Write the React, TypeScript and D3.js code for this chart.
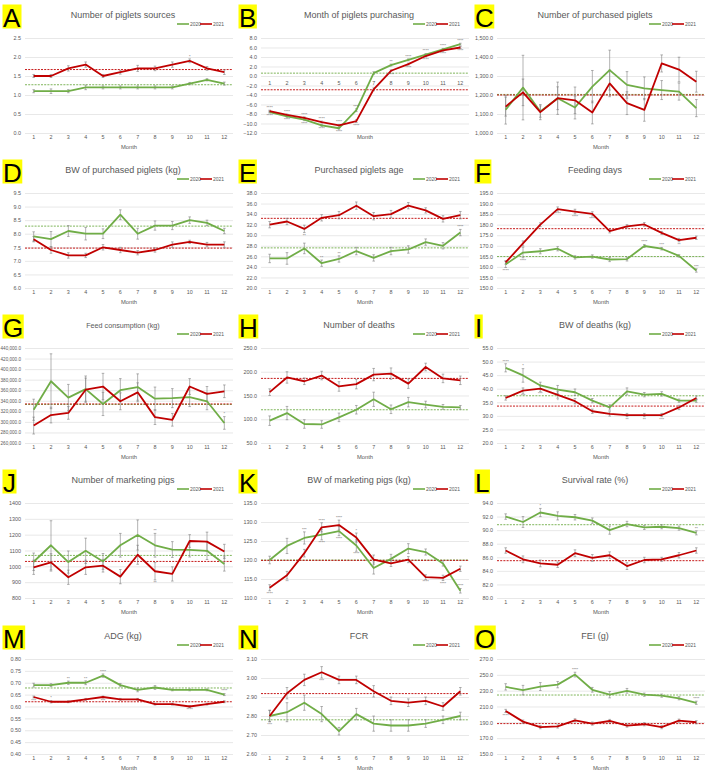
import { useEffect, useRef } from 'react';
import * as d3 from 'd3';

const FONT = '"Liberation Sans", Arial, sans-serif';
const GREEN = '#70ad47';
const RED = '#c00000';
const TEXT = '#595959';

const months = [1, 2, 3, 4, 5, 6, 7, 8, 9, 10, 11, 12];
const seriesNames = ['2020', '2021'];

// A - number of piglets sources
const sourcesTicks = [0, 0.5, 1, 1.5, 2, 2.5];
const sources2020 = [1.1, 1.1, 1.1, 1.2, 1.2, 1.2, 1.2, 1.2, 1.2, 1.3, 1.4, 1.3];
const sources2021 = [1.5, 1.5, 1.7, 1.8, 1.5, 1.6, 1.7, 1.7, 1.8, 1.9, 1.7, 1.6];
const sourcesErr2020 = [0.04, 0.06, 0.04, 0.06, 0.04, 0.04, 0.04, 0.04, 0.04, 0.03, 0.03, 0.04];
const sourcesErr2021 = [0.04, 0.04, 0.07, 0.07, 0.04, 0.05, 0.08, 0.06, 0.07, 0.05, 0.05, 0.06];
const sourcesMean = [1.27, 1.67];

// B - month of piglets purchasing
const purchMonthTicks = [-12, -10, -8, -6, -4, -2, 0, 2, 4, 6, 8];
const purchMonth2020 = [-7.6, -8.5, -9.2, -10.4, -11.0, -7.2, 0.6, 2.3, 3.4, 4.5, 5.6, 6.7];
const purchMonth2021 = [-7.4, -8.2, -8.8, -9.7, -10.4, -9.5, -2.8, 1.1, 2.5, 4.2, 5.4, 6.0];
const purchMonthErr2020 = [0.2, 0.2, 0.2, 0.2, 0.2, 0.3, 0.3, 0.2, 0.2, 0.2, 0.2, 0.2];
const purchMonthErr2021 = [0.2, 0.2, 0.2, 0.2, 0.2, 0.3, 0.3, 0.2, 0.2, 0.2, 0.2, 0.2];
const purchMonthMean = [0.6, -2.9];

// C - number of purchased piglets
const purchNumTicks = [1000, 1100, 1200, 1300, 1400, 1500];
const purchNum2020 = [1122, 1239, 1113, 1183, 1134, 1244, 1331, 1253, 1235, 1226, 1218, 1131];
const purchNum2021 = [1139, 1214, 1110, 1183, 1172, 1108, 1261, 1157, 1122, 1366, 1334, 1270];
const purchNumErr2020 = [75, 170, 30, 85, 60, 85, 105, 70, 60, 50, 45, 45];
const purchNumErr2021 = [50, 70, 40, 60, 70, 60, 70, 60, 60, 45, 65, 55];
const purchNumMean = [1203, 1200];

// D - BW of purchased piglets
const bwPigletTicks = [6, 6.5, 7, 7.5, 8, 8.5, 9, 9.5];
const bwPiglet2020 = [7.9, 7.8, 8.1, 8.0, 8.0, 8.7, 8.0, 8.3, 8.3, 8.5, 8.4, 8.1];
const bwPiglet2021 = [7.8, 7.4, 7.2, 7.2, 7.5, 7.4, 7.3, 7.4, 7.6, 7.7, 7.6, 7.6];
const bwPigletErr2020 = [0.17, 0.28, 0.2, 0.23, 0.18, 0.18, 0.2, 0.17, 0.15, 0.12, 0.1, 0.1];
const bwPigletErr2021 = [0.1, 0.12, 0.1, 0.08, 0.1, 0.1, 0.08, 0.08, 0.1, 0.06, 0.08, 0.1];
const bwPigletMean = [8.28, 7.47];

// E - purchased piglets age
const ageTicks = [20, 22, 24, 26, 28, 30, 32, 34, 36, 38];
const age2020 = [25.6, 25.6, 27.5, 24.7, 25.5, 27.0, 25.7, 27.0, 27.3, 28.7, 28.0, 30.5];
const age2021 = [32.0, 32.6, 31.2, 33.3, 33.8, 35.6, 33.6, 34.0, 35.6, 34.7, 33.1, 33.8];
const ageErr2020 = [0.8, 1.1, 1.0, 0.6, 0.6, 0.7, 0.6, 0.7, 0.7, 0.6, 0.6, 0.6];
const ageErr2021 = [0.6, 0.6, 0.7, 0.6, 0.7, 0.7, 0.7, 0.7, 0.6, 0.5, 0.6, 0.7];
const ageMean = [27.6, 33.2];

// F - feeding days
const feedDaysTicks = [150, 155, 160, 165, 170, 175, 180, 185, 190, 195];
const feedDays2020 = [161.2, 166.8, 167.4, 168.6, 164.5, 164.9, 163.5, 163.7, 169.9, 168.6, 165.2, 158.3];
const feedDays2021 = [162.1, 171.1, 180.0, 187.4, 186.2, 185.1, 176.9, 179.2, 180.1, 176.1, 172.7, 173.8];
const feedDaysErr2020 = [1.5, 2.5, 1.2, 1.0, 0.8, 0.8, 1.0, 0.9, 0.7, 0.6, 0.6, 0.8];
const feedDaysErr2021 = [0.8, 1.2, 0.9, 1.0, 1.1, 1.0, 0.8, 0.8, 0.9, 0.7, 0.8, 0.8];
const feedDaysMean = [164.9, 178.1];

// G - feed consumption
const feedTicks = [260000, 280000, 300000, 320000, 340000, 360000, 380000, 400000, 420000, 440000];
const feed2020 = [323000, 377000, 346000, 362000, 334000, 360000, 366000, 344000, 345000, 347000, 339000, 298000];
const feed2021 = [293000, 313000, 317000, 361000, 367000, 339000, 356000, 309000, 304000, 367000, 353000, 358000];
const feedErr2020 = [20000, 52000, 25000, 25000, 22000, 22000, 25000, 22000, 18000, 18000, 16000, 12000];
const feedErr2021 = [16000, 15000, 12000, 22000, 25000, 16000, 18000, 14000, 12000, 15000, 14000, 12000];
const feedMean = [333000, 334000];

// H - number of deaths
const deathsTicks = [50, 100, 150, 200, 250];
const deaths2020 = [97, 113, 90, 89, 104, 120, 142, 121, 136, 131, 126, 125];
const deaths2021 = [157, 188, 180, 192, 169, 174, 194, 196, 175, 210, 186, 182];
const deathsErr2020 = [10, 14, 9, 8, 9, 9, 15, 9, 10, 7, 5, 4];
const deathsErr2021 = [7, 12, 7, 9, 10, 10, 13, 12, 10, 8, 9, 9];
const deathsMean = [120, 186];

// I - BW of deaths
const bwDeathTicks = [20, 25, 30, 35, 40, 45, 50, 55];
const bwDeath2020 = [47.7, 44.9, 41.2, 39.7, 38.7, 35.6, 33.1, 39.0, 37.8, 38.1, 35.6, 35.6];
const bwDeath2021 = [36.6, 39.3, 40.0, 37.7, 35.4, 31.7, 30.7, 30.3, 30.3, 30.3, 33.1, 36.6];
const bwDeathErr2020 = [1.5, 2.5, 1.2, 1.5, 1.2, 0.8, 1.0, 1.3, 0.8, 0.8, 0.6, 0.6];
const bwDeathErr2021 = [0.8, 1.0, 1.0, 1.2, 1.0, 0.8, 0.8, 0.6, 0.6, 0.6, 0.8, 0.7];
const bwDeathMean = [37.4, 33.6];

// J - number of marketing pigs
const marketTicks = [800, 900, 1000, 1100, 1200, 1300, 1400];
const market2020 = [1029, 1133, 1027, 1098, 1031, 1133, 1198, 1133, 1106, 1104, 1098, 1015];
const market2021 = [994, 1025, 931, 994, 1004, 935, 1073, 969, 952, 1160, 1156, 1094];
const marketErr2020 = [55, 155, 70, 80, 50, 75, 95, 75, 50, 45, 55, 45];
const marketErr2021 = [45, 55, 45, 45, 40, 45, 60, 55, 45, 40, 60, 45];
const marketMean = [1069, 1031];

// K - BW of marketing pigs
const bwMarketTicks = [110, 115, 120, 125, 130, 135];
const bwMarket2020 = [120.0, 123.7, 125.8, 126.7, 127.6, 123.8, 117.9, 120.3, 123.0, 122.1, 119.1, 111.9];
const bwMarket2021 = [112.7, 116.0, 121.8, 128.6, 129.2, 125.9, 120.1, 119.1, 120.1, 115.5, 115.3, 117.7];
const bwMarketErr2020 = [1.0, 2.0, 1.6, 1.4, 1.2, 1.5, 1.6, 1.2, 1.3, 0.8, 0.7, 0.6];
const bwMarketErr2021 = [0.8, 1.0, 1.0, 1.2, 1.3, 1.2, 1.2, 0.8, 0.8, 0.6, 0.7, 0.7];
const bwMarketMean = [120.0, 119.9];

// L - survival rate
const survivalTicks = [80, 82, 84, 86, 88, 90, 92, 94];
const survival2020 = [92.0, 91.2, 92.6, 92.1, 91.9, 91.4, 90.0, 90.9, 90.4, 90.5, 90.3, 89.6];
const survival2021 = [87.0, 85.7, 85.1, 84.9, 86.6, 85.9, 86.3, 84.7, 85.6, 85.7, 86.3, 87.0];
const survivalErr2020 = [0.4, 0.8, 0.6, 0.6, 0.4, 0.4, 0.6, 0.4, 0.3, 0.3, 0.3, 0.3];
const survivalErr2021 = [0.4, 0.5, 0.5, 0.4, 0.5, 0.5, 0.5, 0.5, 0.4, 0.3, 0.4, 0.4];
const survivalMean = [90.8, 85.5];

// M - ADG
const adgTicks = [0.4, 0.45, 0.5, 0.55, 0.6, 0.65, 0.7, 0.75, 0.8];
const adg2020 = [0.69, 0.69, 0.70, 0.70, 0.73, 0.69, 0.67, 0.68, 0.67, 0.67, 0.67, 0.65];
const adg2021 = [0.64, 0.62, 0.62, 0.63, 0.64, 0.63, 0.63, 0.61, 0.61, 0.60, 0.61, 0.62];
const adgErr2020 = [0.008, 0.006, 0.007, 0.008, 0.007, 0.007, 0.008, 0.008, 0.004, 0.004, 0.004, 0.004];
const adgErr2021 = [0.004, 0.005, 0.004, 0.004, 0.004, 0.004, 0.004, 0.004, 0.004, 0.004, 0.004, 0.004];
const adgMean = [0.678, 0.62];

// N - FCR
const fcrTicks = [2.6, 2.7, 2.8, 2.9, 3.0, 3.1];
const fcr2020 = [2.80, 2.82, 2.87, 2.81, 2.72, 2.81, 2.76, 2.75, 2.75, 2.76, 2.78, 2.80];
const fcr2021 = [2.80, 2.92, 2.99, 3.03, 2.99, 2.99, 2.93, 2.88, 2.87, 2.88, 2.85, 2.93];
const fcrErr2020 = [0.03, 0.05, 0.04, 0.04, 0.02, 0.03, 0.04, 0.03, 0.03, 0.02, 0.02, 0.02];
const fcrErr2021 = [0.03, 0.03, 0.03, 0.03, 0.02, 0.02, 0.03, 0.02, 0.02, 0.02, 0.02, 0.02];
const fcrMean = [2.78, 2.918];

// O - FEI
const feiTicks = [150, 170, 190, 210, 230, 250, 270];
const fei2020 = [234.8, 230.7, 235.2, 237.6, 250.3, 231.1, 224.9, 229.8, 224.9, 223.7, 220.4, 214.7];
const fei2021 = [204.4, 190.9, 183.9, 184.8, 192.5, 188.4, 191.7, 185.9, 187.6, 183.9, 192.1, 190.1];
const feiErr2020 = [4, 6, 5, 4, 3, 3, 4, 3, 2, 2, 2, 2];
const feiErr2021 = [2, 2, 2, 2, 2, 2, 2, 2, 2, 2, 2, 2];
const feiMean = [224.5, 188.4];

// significance marks: [series (0 = 2020, 1 = 2021), month, text, side (1 above, -1 below)]
type Note = [number, number, string, number];
const sourcesNotes: Note[] = [[1, 10, '*', 1]];
const purchMonthNotes: Note[] = [
  [1, 1, '****', 1], [0, 1, '****', -1], [1, 2, '****', 1], [0, 2, '****', -1],
  [1, 3, '****', 1], [0, 3, '****', -1], [1, 4, '****', 1], [0, 4, '****', -1],
  [1, 5, '****', 1], [0, 5, '****', -1], [0, 6, '****', 1], [1, 6, '****', -1],
  [0, 8, '**', 1], [1, 8, '****', -1], [0, 9, '****', 1], [1, 9, '****', -1],
  [0, 10, '****', 1], [1, 10, '****', -1], [0, 11, '****', 1], [1, 11, '****', -1],
  [0, 12, '****', 1], [1, 12, '****', -1],
];
const ageNotes: Note[] = [[1, 3, '**', -1], [0, 4, '**', 1], [0, 5, '**', 1], [0, 12, '****', 1]];
const feedDaysNotes: Note[] = [
  [0, 1, '****', -1], [0, 2, '****', -1], [1, 4, '****', -1], [1, 5, '****', -1],
  [1, 6, '****', -1], [0, 9, '****', 1], [0, 10, '***', 1], [1, 11, '**', -1], [0, 12, '***', 1],
];
const feedNotes: Note[] = [[0, 12, '*', 1]];
const bwDeathNotes: Note[] = [
  [0, 1, '****', 1], [0, 2, '*', 1], [1, 2, '***', -1], [1, 3, '***', -1], [1, 4, '*', -1],
  [1, 7, '*', 1], [1, 8, '**', -1], [1, 9, '**', -1], [1, 10, '***', -1],
];
const marketNotes: Note[] = [[0, 8, '**', 1], [1, 8, '**', -1]];
const bwMarketNotes: Note[] = [
  [1, 1, '****', -1], [1, 2, '**', -1], [0, 3, '***', 1], [1, 4, '****', 1], [0, 4, '****', -1],
  [1, 5, '****', 1], [0, 5, '****', -1], [1, 6, '*', 1], [0, 6, '****', -1],
  [1, 10, '****', -1], [1, 11, '****', -1], [0, 12, '****', 1],
];
const survivalNotes: Note[] = [[0, 3, '*', 1], [0, 12, '**', 1]];
const adgNotes: Note[] = [
  [0, 3, '**', 1], [0, 4, '**', 1], [0, 5, '****', 1], [1, 1, '***', -1],
  [1, 2, '*', 1], [1, 5, '***', -1], [1, 10, '****', -1], [0, 12, '****', 1],
];
const fcrNotes: Note[] = [[1, 1, '***', -1], [1, 4, '***', -1]];
const feiNotes: Note[] = [[0, 5, '****', 1], [1, 1, '****', -1], [0, 12, '****', 1]];

interface Panel {
  letter: string;
  title: string;
  titleSize?: number;
  ticks: number[];
  fmt: string;
  values: number[][];
  errors: number[][];
  means: number[];
  notes: Note[];
  axisAtZero?: boolean;
}

const panels: Panel[] = [
  { letter: 'A', title: 'Number of piglets sources', ticks: sourcesTicks, fmt: '.1f', values: [sources2020, sources2021], errors: [sourcesErr2020, sourcesErr2021], means: sourcesMean, notes: sourcesNotes },
  { letter: 'B', title: 'Month of piglets purchasing', ticks: purchMonthTicks, fmt: '.1f', values: [purchMonth2020, purchMonth2021], errors: [purchMonthErr2020, purchMonthErr2021], means: purchMonthMean, notes: purchMonthNotes, axisAtZero: true },
  { letter: 'C', title: 'Number of purchased piglets', ticks: purchNumTicks, fmt: ',.1f', values: [purchNum2020, purchNum2021], errors: [purchNumErr2020, purchNumErr2021], means: purchNumMean, notes: [] },
  { letter: 'D', title: 'BW of purchased piglets (kg)', ticks: bwPigletTicks, fmt: '.1f', values: [bwPiglet2020, bwPiglet2021], errors: [bwPigletErr2020, bwPigletErr2021], means: bwPigletMean, notes: [] },
  { letter: 'E', title: 'Purchased piglets age', ticks: ageTicks, fmt: '.1f', values: [age2020, age2021], errors: [ageErr2020, ageErr2021], means: ageMean, notes: ageNotes },
  { letter: 'F', title: 'Feeding days', ticks: feedDaysTicks, fmt: '.1f', values: [feedDays2020, feedDays2021], errors: [feedDaysErr2020, feedDaysErr2021], means: feedDaysMean, notes: feedDaysNotes },
  { letter: 'G', title: 'Feed consumption (kg)', titleSize: 7.2, ticks: feedTicks, fmt: ',.1f', values: [feed2020, feed2021], errors: [feedErr2020, feedErr2021], means: feedMean, notes: feedNotes },
  { letter: 'H', title: 'Number of deaths', ticks: deathsTicks, fmt: '.1f', values: [deaths2020, deaths2021], errors: [deathsErr2020, deathsErr2021], means: deathsMean, notes: [] },
  { letter: 'I', title: 'BW of deaths (kg)', ticks: bwDeathTicks, fmt: '.1f', values: [bwDeath2020, bwDeath2021], errors: [bwDeathErr2020, bwDeathErr2021], means: bwDeathMean, notes: bwDeathNotes },
  { letter: 'J', title: 'Number of marketing pigs', ticks: marketTicks, fmt: 'd', values: [market2020, market2021], errors: [marketErr2020, marketErr2021], means: marketMean, notes: marketNotes },
  { letter: 'K', title: 'BW of marketing pigs (kg)', ticks: bwMarketTicks, fmt: '.1f', values: [bwMarket2020, bwMarket2021], errors: [bwMarketErr2020, bwMarketErr2021], means: bwMarketMean, notes: bwMarketNotes },
  { letter: 'L', title: 'Survival rate (%)', ticks: survivalTicks, fmt: '.1f', values: [survival2020, survival2021], errors: [survivalErr2020, survivalErr2021], means: survivalMean, notes: survivalNotes },
  { letter: 'M', title: 'ADG (kg)', ticks: adgTicks, fmt: '.2f', values: [adg2020, adg2021], errors: [adgErr2020, adgErr2021], means: adgMean, notes: adgNotes },
  { letter: 'N', title: 'FCR', ticks: fcrTicks, fmt: '.2f', values: [fcr2020, fcr2021], errors: [fcrErr2020, fcrErr2021], means: fcrMean, notes: fcrNotes },
  { letter: 'O', title: 'FEI (g)', ticks: feiTicks, fmt: '.1f', values: [fei2020, fei2021], errors: [feiErr2020, feiErr2021], means: feiMean, notes: feiNotes },
];

const WIDTH = 708;
const HEIGHT = 780;
const PANEL_W = 236;
const PANEL_H = 155;
const plotL = 25;
const plotR = 233;
const plotT = 38;
const plotB = 133;

const App = () => {
  const svgRef = useRef<SVGSVGElement>(null);

  useEffect(() => {
    document.body.style.margin = '0';
    if (!svgRef.current) return;
    const svg = d3.select(svgRef.current);
    svg.selectAll('*').remove();

    svg.append('rect').attr('width', WIDTH).attr('height', HEIGHT).attr('fill', '#fff');

    const colors = [GREEN, RED];

    panels.forEach((p, i) => {
      const col = i % 3;
      const row = Math.floor(i / 3);
      const g = svg.append('g')
        .attr('transform', `translate(${col * PANEL_W},${row * PANEL_H + (row === 4 ? 1 : 0)})`)
        .attr('font-family', FONT);

      const x = d3.scaleBand<number>().domain(months).range([plotL, plotR]);
      const xc = (m: number) => (x(m) ?? 0) + x.bandwidth() / 2;
      const y = d3.scaleLinear()
        .domain([p.ticks[0], p.ticks[p.ticks.length - 1]])
        .range([plotB, plotT]);

      // y axis with gridlines
      const yAxis = g.append('g')
        .attr('transform', `translate(${plotL},0)`)
        .call(d3.axisLeft(y).tickValues(p.ticks).tickFormat(d3.format(p.fmt) as any)
          .tickSize(-(plotR - plotL)).tickPadding(4));
      yAxis.select('.domain').remove();
      yAxis.selectAll('line').attr('stroke', '#d9d9d9').attr('stroke-width', 0.6);
      yAxis.selectAll('text')
        .attr('fill', TEXT).attr('font-size', p.ticks[0] > 10000 ? 4.6 : 5.4)
        .attr('font-family', FONT);

      // x axis
      const xAxisY = p.axisAtZero ? y(0) : plotB;
      const xAxis = g.append('g')
        .attr('transform', `translate(0,${xAxisY})`)
        .call(d3.axisBottom(x).tickSize(0).tickPadding(p.axisAtZero ? 5 : 2.5));
      xAxis.select('.domain').remove();
      xAxis.selectAll('text').attr('fill', TEXT).attr('font-size', 5.4).attr('font-family', FONT);

      g.append('text')
        .attr('x', 129).attr('y', p.axisAtZero ? 139 : 149)
        .attr('text-anchor', 'middle').attr('font-size', 5.8).attr('fill', TEXT)
        .text('Month');

      // mean reference lines
      p.means.forEach((m, s) => {
        g.append('line')
          .attr('x1', plotL).attr('x2', plotR)
          .attr('y1', y(m)).attr('y2', y(m))
          .attr('stroke', colors[s]).attr('stroke-width', 0.9)
          .attr('stroke-dasharray', '2,1.2');
      });

      // error bars
      p.values.forEach((vals, s) => {
        const eg = g.append('g').attr('stroke', '#7f7f7f').attr('stroke-width', 0.6);
        vals.forEach((v, j) => {
          const e = p.errors[s][j];
          const cx = xc(months[j]);
          eg.append('line').attr('x1', cx).attr('x2', cx).attr('y1', y(v - e)).attr('y2', y(v + e));
          eg.append('line').attr('x1', cx - 1.3).attr('x2', cx + 1.3).attr('y1', y(v - e)).attr('y2', y(v - e));
          eg.append('line').attr('x1', cx - 1.3).attr('x2', cx + 1.3).attr('y1', y(v + e)).attr('y2', y(v + e));
        });
      });

      // series lines
      const line = d3.line<number>().x((_, j) => xc(months[j])).y(d => y(d));
      p.values.forEach((vals, s) => {
        g.append('path')
          .datum(vals)
          .attr('d', line)
          .attr('fill', 'none')
          .attr('stroke', colors[s])
          .attr('stroke-width', 1.8)
          .attr('stroke-linejoin', 'round');
      });

      // significance marks
      p.notes.forEach(([s, m, t, side]) => {
        const v = p.values[s][m - 1];
        const e = p.errors[s][m - 1];
        const yy = side > 0 ? y(v + e) - 1.2 : y(v - e) + 4;
        g.append('text')
          .attr('x', xc(m)).attr('y', yy)
          .attr('text-anchor', 'middle').attr('font-size', 4)
          .attr('fill', '#666')
          .text(t);
      });

      // title
      g.append('text')
        .attr('x', 123).attr('y', 18)
        .attr('text-anchor', 'middle').attr('font-size', p.titleSize ?? 9).attr('fill', TEXT)
        .text(p.title);

      // legend
      const legendX = [177, 200];
      seriesNames.forEach((name, s) => {
        g.append('line')
          .attr('x1', legendX[s]).attr('x2', legendX[s] + 12)
          .attr('y1', 24).attr('y2', 24)
          .attr('stroke', colors[s]).attr('stroke-width', 1.6);
        g.append('text')
          .attr('x', legendX[s] + 13).attr('y', 25.8)
          .attr('font-size', 5).attr('fill', TEXT)
          .text(name);
      });

      // panel letter on yellow
      const bg = g.append('rect').attr('fill', '#ffff00');
      const letter = g.append('text')
        .attr('x', 3).attr('y', 26.5)
        .attr('font-size', 26).attr('fill', '#000')
        .text(p.letter);
      const bb = (letter.node() as SVGTextElement).getBBox();
      bg.attr('x', bb.x - 0.5).attr('y', 4.5).attr('width', bb.width + 1).attr('height', 24);
    });
  }, []);

  return <svg ref={svgRef} width={WIDTH} height={HEIGHT} style={{ display: 'block' }} />;
};

export default App;
